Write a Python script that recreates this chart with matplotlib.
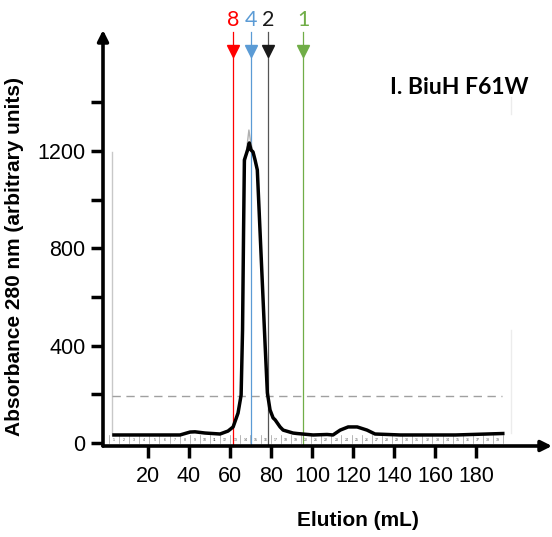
import matplotlib
matplotlib.use("Agg")
import matplotlib.pyplot as plt

# Size-exclusion trace: elution volume (mL) vs absorbance at 280 nm
elution_ml = [3.4, 20, 35.6, 40.5, 42.9, 47.8, 55.1, 59.0, 61.5, 63.9, 65.4,
              66.1, 66.6, 67.0, 67.8, 68.6, 69.4, 70.2, 71.2, 72.2, 73.3,
              74.6, 75.9, 77.1, 78.2, 79.5, 81.0, 82.0, 84.4, 85.9, 90.7,
              92.7, 100.5, 107.3, 110.2, 113.7, 117.6, 122.0, 126.8, 130.7,
              143, 170, 193]
absorbance = [33, 33, 33, 45, 46, 41, 37, 49, 66, 123, 197,
              464, 875, 1163, 1184, 1205, 1233, 1204, 1196, 1163, 1122,
              875, 629, 403, 206, 136, 103, 95, 66, 53, 41,
              39, 33, 35, 33, 53, 66, 66, 53, 37,
              33, 33, 39]

# Fainter replicate trace across the peak apex
replicate_ml = [66.8, 68.0, 69.2, 70.0, 71.0, 72.5]
replicate_abs = [1100, 1200, 1286, 1240, 1200, 1150]

# Calibration standards marked by arrows
std_labels = ["8", "4", "2", "1"]
std_ml = [61.5, 70.2, 78.5, 95.6]
std_colors = ["#ff0000", "#5b9bd5", "#1a1a1a", "#70ad47"]
std_line_colors = ["#ff0000", "#5b9bd5", "#555555", "#70ad47"]

# Fraction numbering along the baseline
fraction_numbers = list(range(1, 40))
fraction_first_ml = 3.4
fraction_width_ml = 4.93

x_ticks = [20, 40, 60, 80, 100, 120, 140, 160, 180]
y_major = [0, 400, 800, 1200]
y_minor = [200, 600, 1000, 1400]

fig = plt.figure(figsize=(5.52, 5.37), dpi=100)
W, H = 552, 537
ax = fig.add_axes([103 / W, (H - 446) / H, (W - 103) / W, (446 - 30) / H])
ax.set_xlim(-1.95, 217)
ax.set_ylim(-12.3, 1697)

for s in ax.spines.values():
    s.set_visible(False)

# axis arrows
arrow_kw = dict(arrowstyle="-|>", lw=2.6, color="black", mutation_scale=16,
                shrinkA=0, shrinkB=0)
ax.annotate("", xy=(1.0, 0), xytext=(0, 0), xycoords="axes fraction",
            arrowprops=arrow_kw, annotation_clip=False)
ax.annotate("", xy=(0, 1.0), xytext=(0, 0), xycoords="axes fraction",
            arrowprops=arrow_kw, annotation_clip=False)

tick_font = dict(family="Liberation Sans", size=15.5)
ax.set_xticks(x_ticks)
ax.set_xticklabels([str(v) for v in x_ticks], fontdict=tick_font)
ax.set_yticks(y_major)
ax.set_yticklabels([str(v) for v in y_major], fontdict=tick_font)
ax.yaxis.set_minor_locator(plt.FixedLocator(y_minor))
ax.tick_params(axis="both", which="both", direction="out", length=8.5,
               width=2.5, color="black")
ax.tick_params(axis="x", pad=6)
ax.tick_params(axis="y", pad=4)

# inset frame remnants
ax.plot([2.4, 2.4], [33, 1196], color="#c8c8c8", lw=1.0)
ax.plot([2.4, 192.7], [193, 193], color="#a0a0a0", lw=1.0, ls=(0, (6, 4)))
ax.plot([197, 197], [40, 465], color="#ececec", lw=1.0)
ax.plot([197, 197], [1350, 1420], color="#ececec", lw=1.0)

# fraction boxes and numbers
for n in fraction_numbers:
    c = fraction_first_ml + (n - 1) * fraction_width_ml
    left = c - fraction_width_ml / 2
    ax.plot([left, left], [-2, 33], color="#9a9a9a", lw=0.5)
    ax.text(c, 14, str(n), fontsize=2.6, color="#555555", ha="center",
            va="center", family="Liberation Sans")
last_edge = fraction_first_ml + (fraction_numbers[-1] - 0.5) * fraction_width_ml
ax.plot([last_edge, last_edge], [-2, 33], color="#9a9a9a", lw=0.5)

# standard markers
for lab, x, c, lc in zip(std_labels, std_ml, std_colors, std_line_colors):
    ax.plot([x, x], [-12, 1689], color=lc, lw=0.9, clip_on=False, zorder=2)
    ax.plot([x], [1612], marker="v", color=c, markersize=8.5, clip_on=False,
            zorder=3)
    ax.text(x, 1740, lab, color=c, fontsize=15.5, family="Lato", ha="center",
            va="center", clip_on=False)

# chromatogram traces
ax.plot(replicate_ml, replicate_abs, color="#b0b0b0", lw=1.0, zorder=4)
ax.plot(elution_ml, absorbance, color="black", lw=2.5, zorder=5,
        solid_joinstyle="round")

ax.set_ylabel("Absorbance 280 nm (arbitrary units)", fontsize=15,
              fontweight="bold", family="Liberation Sans")
ax.yaxis.set_label_coords(-0.175, 0.455)
fig.text(358 / W, 1 - 521 / H, "Elution (mL)", fontsize=15, fontweight="bold",
         family="Liberation Sans", ha="center", va="center")
fig.text(459 / W, 1 - 88 / H, "I. BiuH F61W", fontsize=16.5, fontweight="bold",
         family="Lato", ha="center", va="center")

fig.savefig("out.png", dpi=100)
